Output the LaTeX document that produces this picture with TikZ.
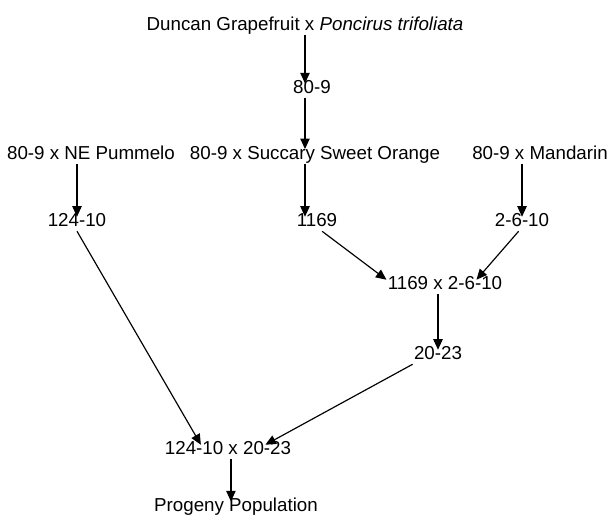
\documentclass[tikz,border=0pt]{standalone}
\usepackage{fontspec}
\setmainfont{Liberation Sans}
\usetikzlibrary{arrows.meta}

\begin{document}
\begin{tikzpicture}[
  font=\fontsize{16}{19}\selectfont,
  sel/.style={inner xsep=1pt, inner ysep=1pt, text height=.75em, text depth=.25em},
  arr/.style={-{Triangle[length=9pt, width=8pt]}, line width=1pt},
]
\useasboundingbox (0,0) rectangle (18.45,-15.51);

% ---------------- first cross --------------------------------------
\node[sel] (dg) at (9.15,-0.83) {Duncan Grapefruit x \textit{Poncirus trifoliata}};
\node[sel] (s809) at (9.36,-2.72) {80-9};

% ---------------- second crosses -----------------------------------
\node[sel] (nep) at (2.73,-4.69) {80-9 x NE Pummelo};
\node[sel] (suc) at (9.45,-4.69) {80-9 x Succary Sweet Orange};
\node[sel] (man) at (16.2,-4.69) {80-9 x Mandarin};

\node[sel] (p124) at (2.31,-6.72) {124-10};
\node[sel] (p1169) at (9.51,-6.72) {1169};
\node[sel] (p2610) at (15.66,-6.72) {2-6-10};

% ---------------- later crosses ------------------------------------
\node[sel] (cx1) at (13.35,-8.61) {1169 x 2-6-10};
\node[sel] (p2023) at (13.14,-10.71) {20-23};
\node[sel] (cx2) at (6.84,-13.56) {124-10 x 20-23};
\node[sel] (prog) at (7.08,-15.26) {Progeny Population};

% ---------------- flow ---------------------------------------------
\draw[arr] (dg.south) -- (dg.south |- s809.north);
\draw[arr] (s809.south -| dg.south) -- (dg.south |- suc.north);
\draw[arr] (suc.south -| dg.south) -- (dg.south |- p1169.north);
\draw[arr] (nep.south -| p124.north) -- (p124.north);
\draw[arr] (man.south -| p2610.north) -- (p2610.north);

\draw[arr] (p1169.-55) -- (cx1.north west);
\draw[arr] (p2610.-115) -- (cx1.13);
\draw[arr] (cx1.south -| p2023.north) -- (p2023.north);

\draw[arr] (p124.south) -- (cx2.165);
\draw[arr] (p2023.south west) -- (cx2.11);
\draw[arr] ([xshift=2.5pt]cx2.south) -- ([xshift=2.5pt]cx2.south |- prog.north);

\end{tikzpicture}
\end{document}
